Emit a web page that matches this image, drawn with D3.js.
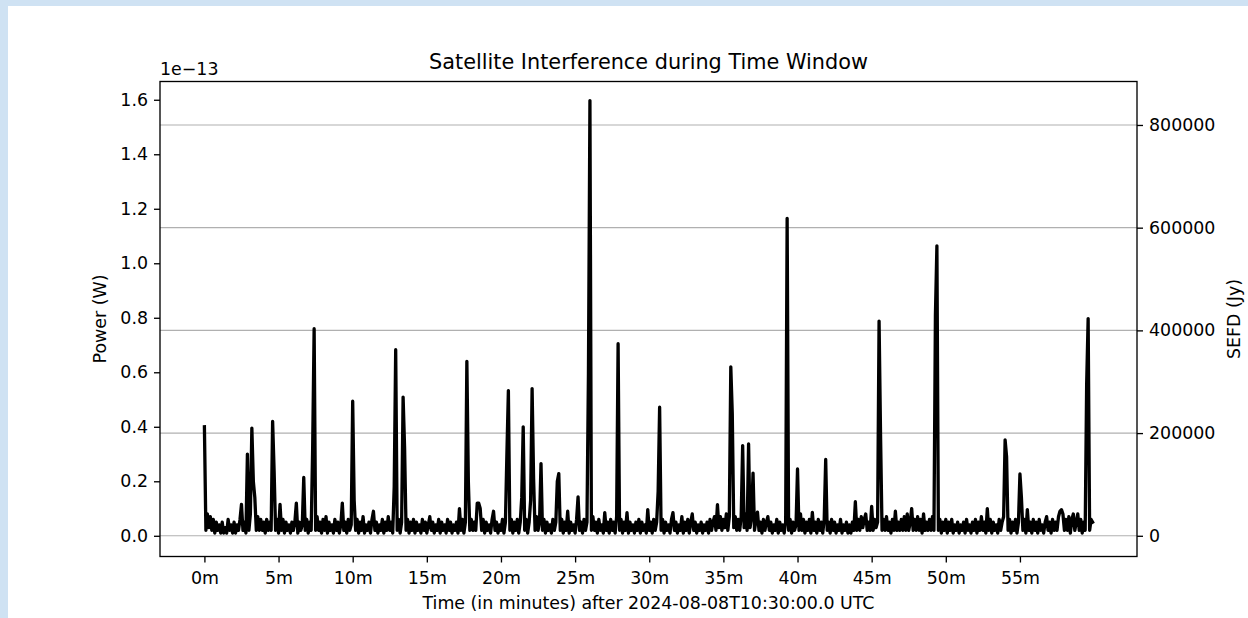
<!DOCTYPE html>
<html>
<head>
<meta charset="utf-8">
<script src="https://cdn.jsdelivr.net/npm/d3@7/dist/d3.min.js"></script>
<style>
html,body{margin:0;padding:0;background:#cfe2f3;}
svg{display:block;}
text{font-family:"DejaVu Sans",sans-serif;fill:#000;}
</style>
</head>
<body>
<svg id="chart" width="1248" height="618"></svg>
<script>
// ---- DATA (power in units of 1e-13 W, one sample every 0.1 minute) ----
const startMinute = 0;
const stepMinutes = 0.1;
const power_00_10 = [
0.40,0.02,0.08,0.03,0.07,0.02,0.06,0.01,0.05,0.02,
0.04,0.01,0.05,0.01,0.03,0.01,0.06,0.02,0.04,0.01,
0.05,0.01,0.04,0.02,0.06,0.115,0.02,0.05,0.01,0.30,
0.02,0.08,0.395,0.20,0.14,0.02,0.07,0.02,0.06,0.02,
0.05,0.01,0.06,0.02,0.05,0.02,0.42,0.24,0.02,0.06,
0.01,0.115,0.02,0.06,0.01,0.05,0.02,0.04,0.01,0.05,
0.02,0.05,0.12,0.01,0.05,0.02,0.04,0.214,0.02,0.06,
0.01,0.05,0.02,0.32,0.76,0.02,0.07,0.02,0.05,0.01,
0.06,0.02,0.07,0.01,0.05,0.02,0.04,0.01,0.06,0.02,
0.05,0.01,0.04,0.12,0.02,0.05,0.01,0.06,0.02,0.04];
const power_10_20 = [
0.494,0.13,0.02,0.06,0.01,0.05,0.02,0.07,0.01,0.04,
0.02,0.05,0.01,0.06,0.09,0.02,0.05,0.01,0.04,0.02,
0.06,0.01,0.05,0.02,0.07,0.02,0.05,0.01,0.18,0.683,
0.02,0.06,0.01,0.05,0.509,0.325,0.02,0.06,0.01,0.05,
0.02,0.06,0.01,0.05,0.02,0.04,0.01,0.06,0.02,0.05,
0.01,0.04,0.07,0.02,0.05,0.01,0.04,0.02,0.06,0.01,
0.05,0.02,0.04,0.01,0.06,0.02,0.05,0.01,0.04,0.02,
0.05,0.01,0.10,0.02,0.06,0.01,0.05,0.64,0.20,0.02,
0.06,0.02,0.05,0.02,0.12,0.12,0.10,0.02,0.06,0.01,
0.05,0.02,0.04,0.01,0.06,0.09,0.02,0.05,0.01,0.04];
const power_20_30 = [
0.02,0.06,0.01,0.05,0.30,0.533,0.02,0.06,0.01,0.05,
0.02,0.06,0.01,0.05,0.14,0.40,0.02,0.06,0.01,0.05,
0.13,0.54,0.21,0.02,0.07,0.02,0.05,0.265,0.02,0.06,
0.01,0.05,0.02,0.04,0.01,0.06,0.02,0.05,0.20,0.228,
0.02,0.06,0.01,0.05,0.02,0.09,0.01,0.05,0.02,0.04,
0.01,0.06,0.143,0.02,0.05,0.01,0.06,0.02,0.05,0.597,
1.597,0.02,0.07,0.02,0.05,0.01,0.06,0.02,0.04,0.01,
0.085,0.02,0.05,0.01,0.06,0.02,0.05,0.01,0.07,0.705,
0.02,0.06,0.01,0.05,0.02,0.085,0.01,0.05,0.02,0.04,
0.01,0.05,0.02,0.06,0.01,0.05,0.02,0.04,0.01,0.096];
const power_30_40 = [
0.02,0.05,0.01,0.06,0.02,0.05,0.163,0.472,0.02,0.06,
0.01,0.05,0.02,0.04,0.01,0.06,0.085,0.02,0.05,0.01,
0.04,0.02,0.07,0.01,0.05,0.02,0.06,0.01,0.05,0.08,
0.02,0.05,0.01,0.04,0.02,0.05,0.01,0.04,0.02,0.05,
0.01,0.06,0.02,0.05,0.07,0.02,0.114,0.03,0.07,0.02,
0.06,0.03,0.08,0.02,0.07,0.62,0.448,0.03,0.07,0.02,
0.06,0.02,0.07,0.331,0.03,0.08,0.02,0.337,0.03,0.07,
0.23,0.02,0.06,0.087,0.02,0.05,0.01,0.06,0.02,0.05,
0.07,0.02,0.05,0.01,0.04,0.02,0.06,0.01,0.05,0.02,
0.04,0.01,0.05,1.165,0.02,0.06,0.01,0.05,0.02,0.04];
const power_40_50 = [
0.245,0.02,0.08,0.02,0.06,0.01,0.05,0.02,0.06,0.01,
0.086,0.02,0.05,0.01,0.06,0.02,0.05,0.01,0.06,0.28,
0.02,0.05,0.01,0.06,0.02,0.05,0.01,0.04,0.02,0.06,
0.01,0.04,0.02,0.05,0.01,0.04,0.01,0.05,0.02,0.125,
0.02,0.06,0.02,0.07,0.03,0.06,0.08,0.02,0.05,0.02,
0.108,0.02,0.06,0.03,0.05,0.788,0.368,0.02,0.06,0.02,
0.07,0.02,0.05,0.01,0.06,0.02,0.09,0.02,0.05,0.02,
0.06,0.02,0.07,0.02,0.08,0.02,0.05,0.10,0.02,0.06,
0.02,0.07,0.02,0.06,0.01,0.08,0.02,0.05,0.02,0.06,
0.02,0.07,0.02,0.809,1.064,0.02,0.06,0.01,0.05,0.02];
const power_50_60 = [
0.06,0.01,0.05,0.02,0.06,0.01,0.04,0.02,0.05,0.01,
0.04,0.02,0.05,0.01,0.06,0.02,0.04,0.01,0.05,0.02,
0.06,0.01,0.05,0.02,0.07,0.02,0.05,0.01,0.10,0.02,
0.06,0.01,0.05,0.02,0.04,0.01,0.06,0.02,0.05,0.07,
0.352,0.29,0.02,0.06,0.01,0.05,0.02,0.06,0.01,0.05,
0.227,0.14,0.02,0.06,0.01,0.096,0.02,0.05,0.01,0.06,
0.02,0.05,0.01,0.06,0.02,0.04,0.01,0.05,0.07,0.02,
0.05,0.01,0.06,0.02,0.05,0.02,0.07,0.09,0.096,0.08,
0.02,0.06,0.02,0.07,0.01,0.06,0.08,0.02,0.05,0.08,
0.02,0.06,0.01,0.05,0.02,0.558,0.797,0.02,0.06,0.05];

const xTicks = [0,5,10,15,20,25,30,35,40,45,50,55];
const xTickLabels = ["0m","5m","10m","15m","20m","25m","30m","35m","40m","45m","50m","55m"];
const powerTicks = [0.0,0.2,0.4,0.6,0.8,1.0,1.2,1.4,1.6];
const sefdTicks = [0,200000,400000,600000,800000];
const sefdPerPowerUnit = 530680;   // Jy per 1e-13 W
const powerLimits = [-0.076, 1.667];

const titleText = "Satellite Interference during Time Window";
const xLabel = "Time (in minutes) after 2024-08-08T10:30:00.0 UTC";
const yLabelLeft = "Power (W)";
const yLabelRight = "SEFD (Jy)";
const offsetText = "1e\u221213";

// ---- BUILD ----
const power = [].concat(power_00_10, power_10_20, power_20_30, power_30_40, power_40_50, power_50_60);
const series = power.map((v, i) => ({t: startMinute + i * stepMinutes, v}));

const W = 1248, H = 618;
const L = 160, R = 1137, T = 81.5, B = 556.5;
const svg = d3.select("#chart");

svg.append("rect").attr("width", W).attr("height", H).attr("fill", "#cfe2f3");
svg.append("rect").attr("x", 8).attr("y", 6).attr("width", W - 8).attr("height", H - 6).attr("fill", "#ffffff");

const tExt = d3.extent(series, d => d.t);
const pad = (tExt[1] - tExt[0]) * 0.05;
const x = d3.scaleLinear().domain([tExt[0] - pad, tExt[1] + pad]).range([L, R]);
const y = d3.scaleLinear().domain(powerLimits).range([B, T]);
const y2 = d3.scaleLinear().domain(powerLimits.map(v => v * sefdPerPowerUnit)).range([B, T]);

const fs = 17.4, tickLen = 6, tickPad = 6, tickW = 1.33;

// grid (right axis ticks)
svg.append("g").selectAll("line").data(sefdTicks).join("line")
  .attr("x1", L).attr("x2", R)
  .attr("y1", d => y2(d)).attr("y2", d => y2(d))
  .attr("stroke", "#b0b0b0").attr("stroke-width", 1.1);

// line
const clipId = "plotclip";
svg.append("clipPath").attr("id", clipId).append("rect")
  .attr("x", L).attr("y", T).attr("width", R - L).attr("height", B - T);
svg.append("path").datum(series)
  .attr("clip-path", `url(#${clipId})`)
  .attr("fill", "none").attr("stroke", "#000").attr("stroke-width", 3.3)
  .attr("stroke-linejoin", "round").attr("stroke-linecap", "square")
  .attr("d", d3.line().x(d => x(d.t)).y(d => y(d.v)));

// axes
function styleAxis(g) {
  g.select(".domain").remove();
  g.selectAll(".tick line").attr("stroke", "#000").attr("stroke-width", tickW);
  g.selectAll(".tick text").attr("font-size", fs).attr("font-family", "DejaVu Sans").attr("fill", "#000");
}
const gx = svg.append("g").attr("transform", `translate(0,${B})`)
  .call(d3.axisBottom(x).tickValues(xTicks).tickFormat((d, i) => xTickLabels[i]).tickSize(tickLen).tickPadding(tickPad));
styleAxis(gx);
gx.selectAll(".tick text").attr("y", 27.8).attr("dy", 0);

const gy = svg.append("g").attr("transform", `translate(${L},0)`)
  .call(d3.axisLeft(y).tickValues(powerTicks).tickFormat(d3.format(".1f")).tickSize(tickLen).tickPadding(tickPad));
styleAxis(gy);

const gy2 = svg.append("g").attr("transform", `translate(${R},0)`)
  .call(d3.axisRight(y2).tickValues(sefdTicks).tickFormat(d3.format("d")).tickSize(tickLen).tickPadding(tickPad));
styleAxis(gy2);

// frame
svg.append("rect").attr("x", L).attr("y", T).attr("width", R - L).attr("height", B - T)
  .attr("fill", "none").attr("stroke", "#000").attr("stroke-width", 1.33);

// texts
svg.append("text").attr("x", (L + R) / 2).attr("y", 68.7).attr("text-anchor", "middle")
  .attr("font-size", 20.8).text(titleText);
svg.append("text").attr("x", (L + R) / 2).attr("y", 608.5).attr("text-anchor", "middle")
  .attr("font-size", fs).text(xLabel);
svg.append("text").attr("transform", `translate(106,${(T + B) / 2}) rotate(-90)`)
  .attr("text-anchor", "middle").attr("font-size", fs).text(yLabelLeft);
svg.append("text").attr("transform", `translate(1239.5,${(T + B) / 2}) rotate(-90)`)
  .attr("text-anchor", "middle").attr("font-size", fs).text(yLabelRight);
svg.append("text").attr("x", L).attr("y", 75).attr("text-anchor", "start")
  .attr("font-size", fs).text(offsetText);
</script>
</body>
</html>
